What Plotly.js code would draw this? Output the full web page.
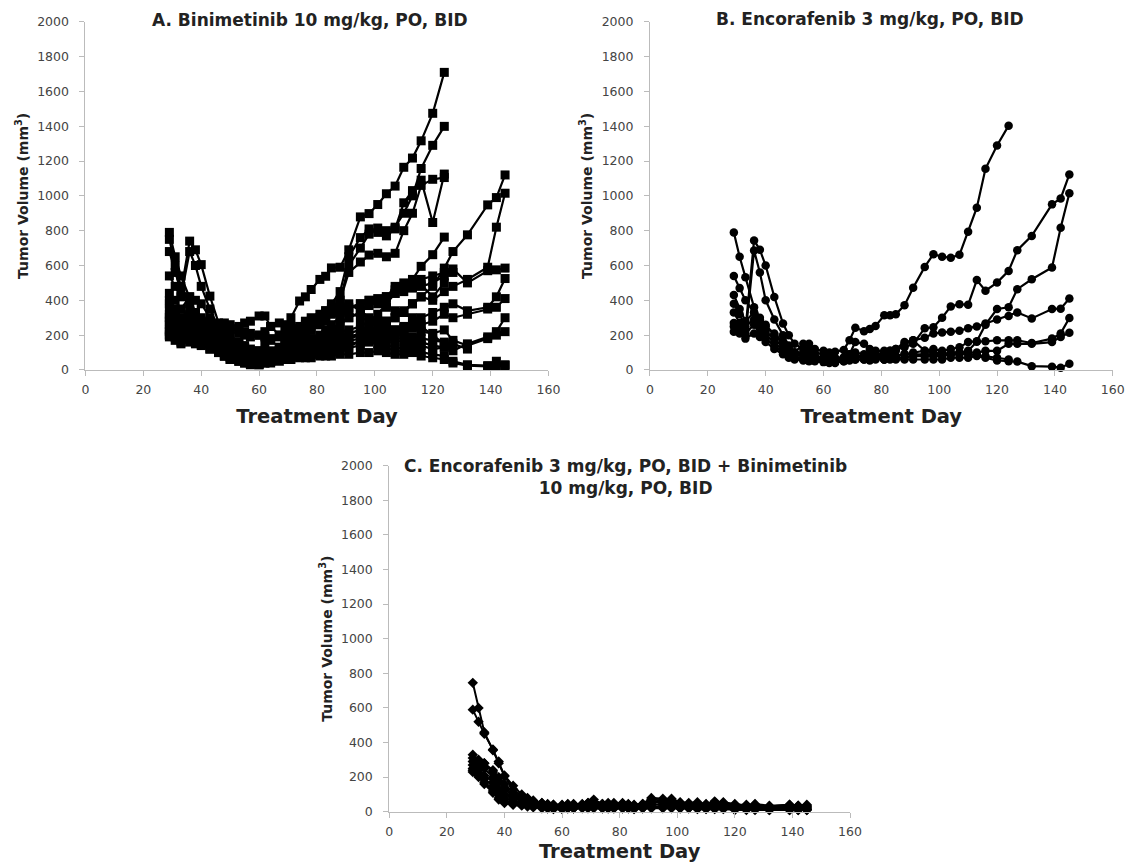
<!DOCTYPE html>
<html><head><meta charset="utf-8">
<script src="https://cdn.plot.ly/plotly-3.0.1.min.js"></script>
<style>html,body{margin:0;padding:0;background:#fff}#chart{width:1129px;height:865px}</style>
</head><body><div id="chart"></div>
<script>
// Measurement days (treatment day)
const days = [29,31,33,36,38,40,43,46,48,50,53,55,57, 60,62,64,67,69,71,74,76,78,81,83,85,88, 91,95,98,101,104,107,110,113,116,120,124,127,132,139,142,145];
const xTicks = [0,20,40,60,80,100,120,140,160];
const yTicks = [0,200,400,600,800,1000,1200,1400,1600,1800,2000];
const N = null;

// Panel A: Binimetinib 10 mg/kg (one array per mouse, tumor volume mm3)
const A01 = [300,280,260,300,260,230,200,170,140,120,110,100,90, 110,150,170,200,250,300,396,420,462,520,538,586,590, 690,879,898,950,1012,1056,1164,1217,1316,1474,1709,N,N,N,N,N];
const A02 = [790,650,540,420,330,270,230,190,160,130,120,100,90, 80,90,100,120,140,160,180,200,230,260,300,330,400, 600,700,780,815,800,820,900,1000,1157,1290,1399,N,N,N,N,N];
const A03 = [750,600,480,380,300,260,220,180,140,120,100,90,80, 70,80,90,110,130,150,180,220,260,300,340,380,450, 650,760,810,790,770,810,960,1030,1090,847,1125,N,N,N,N,N];
const A04 = [680,560,450,740,690,605,424,270,200,160,130,110,100, 90,100,110,130,150,170,190,210,240,260,280,330,400, 560,620,660,670,650,670,800,900,1060,1095,1105,N,N,N,N,N];
const A05 = [540,480,420,680,600,480,350,240,200,170,150,130,110, 100,90,100,110,120,130,150,170,180,190,200,210,220, 230,250,280,320,380,440,480,520,595,662,763,N,N,N,N,N];
const A06 = [440,400,350,420,400,380,300,240,200,180,160,140,120, 110,100,90,100,100,110,120,130,140,150,160,180,200, 210,230,250,270,280,300,330,380,420,480,585,680,776,948,990,1120];
const A07 = [400,350,300,320,300,280,250,220,190,160,140,120,100, 90,80,70,80,90,100,110,120,130,140,150,160,170, 180,200,220,250,280,300,340,380,420,400,450,480,520,590,820,1015];
const A08 = [380,330,290,300,280,260,230,200,170,150,130,110,100, 90,80,80,90,100,110,120,130,150,170,200,230,260, 300,330,380,400,420,460,480,500,520,540,560,580,500,570,575,585];
const A09 = [350,300,260,280,260,250,220,190,160,140,120,100,90, 80,70,60,70,80,90,100,110,120,130,140,150,160, 170,180,200,210,220,230,250,280,300,330,360,380,340,360,420,525];
const A10 = [320,280,250,270,250,230,210,180,150,130,110,90,80, 70,60,50,60,70,80,90,100,100,110,120,130,140, 150,160,170,180,190,200,220,240,260,280,320,300,320,350,360,410];
const A11 = [300,270,240,250,240,220,200,170,140,110,90,70,60, 50,60,50,60,70,80,80,90,90,100,110,120,130, 140,160,200,220,210,230,240,250,220,210,230,170,140,180,220,300];
const A12 = [280,250,220,240,230,210,180,150,120,90,70,60,50, 40,50,60,70,80,80,90,100,110,120,130,150,170, 190,210,200,190,180,170,160,150,140,120,130,110,150,190,200,220];
const A13 = [250,230,210,220,210,190,160,130,100,80,60,50,40, 30,40,50,60,70,70,80,80,90,90,100,110,120, 130,140,160,150,140,130,120,110,100,90,80,50,30,25,50,30];
const A14 = [230,210,190,200,190,170,140,110,80,60,50,40,30, 30,40,40,50,60,60,70,70,70,80,80,80,90, 90,100,100,110,100,90,90,100,80,70,60,40,25,20,20,25];
const A15 = [200,190,220,260,250,240,250,260,270,260,250,270,280, 310,310,250,200,180,170,160,170,180,200,230,260,300, 350,380,400,380,360,340,330,300,250,200,150,N,N,N,N,N];
const A16 = [200,190,160,180,170,150,120,100,80,60,50,40,35, 40,50,60,70,80,90,100,120,140,170,200,230,270, 300,330,370,400,420,480,500,480,490,420,500,N,N,N,N,N];
const A17 = [260,240,300,350,330,300,280,250,230,220,210,200,190, 200,220,250,270,260,250,240,260,280,300,320,350,380, 380,340,300,280,250,220,200,180,160,140,130,N,N,N,N,N];
const A18 = [220,200,180,190,200,210,230,240,250,240,230,220,210, 200,190,180,190,210,230,250,280,300,320,340,360,350, 330,300,280,260,240,220,200,190,180,170,160,150,120,N,N,N];
const A19 = [190,170,150,160,150,140,120,100,80,70,60,50,45, 60,80,100,130,160,200,230,250,270,280,300,320,340, 360,380,400,410,420,440,450,470,480,500,540,560,N,N,N,N];
const panelA = [A01,A02,A03,A04,A05,A06,A07,A08,A09,A10,A11,A12,A13,A14,A15,A16,A17,A18,A19];

// Panel B: Encorafenib 3 mg/kg
const B01 = [540,470,400,330,290,250,210,160,120,100,150,150,120, 110,100,105,115,171,242,223,235,253,314,314,320,371, 472,592,665,650,645,661,794,932,1155,1289,1403,N,N,N,N,N];
const B02 = [430,350,280,330,260,220,180,130,100,80,90,80,70, 60,70,60,70,80,70,80,80,90,100,110,120,130, 150,240,245,300,365,378,374,516,455,502,569,688,770,951,985,1123];
const B03 = [380,320,250,290,240,200,160,110,90,70,60,60,70, 60,50,60,60,70,80,70,60,70,60,70,80,90, 100,110,120,110,120,130,160,165,260,350,360,464,521,588,817,1015];
const B04 = [330,270,210,260,210,180,140,100,80,70,70,80,80, 70,60,50,70,90,100,90,80,80,90,100,110,150, 170,185,210,215,220,225,240,250,267,290,310,330,296,350,352,410];
const B05 = [270,240,230,744,690,600,419,267,200,150,120,110,100, 90,80,70,70,70,80,80,80,70,80,80,80,90, 90,90,90,90,100,100,110,162,165,170,170,170,155,180,210,298];
const B06 = [250,220,180,210,190,160,120,90,70,60,55,50,50, 45,40,40,50,60,60,60,70,70,60,70,70,70, 80,80,80,80,90,90,100,100,110,110,150,150,150,160,190,214];
const B07 = [220,210,200,686,560,400,290,200,140,100,80,70,60, 55,50,45,50,55,60,60,55,60,60,60,60,60, 60,60,60,60,70,70,70,80,70,55,50,48,22,19,13,35];
const B08 = [790,650,533,360,300,260,200,150,120,100,100,90,80, 70,60,60,70,90,160,150,120,110,110,110,120,160, 170,110,100,95,90,100,90,85,80,70,60,N,N,N,N,N];
const panelB = [B01,B02,B03,B04,B05,B06,B07,B08];

// Panel C: Encorafenib 3 mg/kg + Binimetinib 10 mg/kg
const C01 = [745,600,460,355,280,205,130,90,70,55,45,40,35, 35,40,35,40,45,50,40,45,40,45,40,35,40, 70,65,60,50,45,40,40,50,45,35,30,40,30,35,30,30];
const C02 = [590,520,450,360,290,210,150,100,80,60,50,40,40, 35,40,45,40,50,70,45,40,50,45,40,35,45, 80,75,70,55,50,55,45,60,50,40,40,40,30,40,35,40];
const C03 = [330,300,280,240,200,160,110,80,60,50,40,35,30, 30,35,30,35,40,45,35,40,35,40,40,35,40, 55,50,50,45,40,35,35,45,40,30,25,30,25,30,25,25];
const C04 = [310,280,250,200,170,130,90,70,55,45,35,30,25, 25,30,25,30,35,40,30,35,30,35,35,30,35, 50,60,45,40,35,30,30,40,35,25,20,25,20,25,20,20];
const C05 = [290,270,280,230,180,140,100,90,75,65,50,45,40, 40,45,40,45,50,55,45,50,45,50,45,40,45, 60,55,75,50,45,45,40,55,55,45,35,45,35,40,35,35];
const C06 = [270,240,210,170,130,100,80,60,50,40,30,25,20, 20,25,20,25,30,35,25,30,25,30,30,25,30, 40,40,40,35,30,25,25,35,30,20,20,20,15,20,15,15];
const C07 = [250,220,190,150,110,80,60,50,40,35,30,25,20, 20,25,25,30,30,30,25,25,25,25,25,20,25, 30,30,30,25,25,20,20,25,25,20,15,15,15,15,15,15];
const C08 = [240,210,170,120,80,60,50,40,35,30,25,20,20, 20,20,20,25,25,25,20,20,20,20,20,20,20, 25,25,25,20,20,20,20,20,20,15,15,15,10,10,10,10];
const C09 = [230,200,160,110,70,50,40,35,30,25,20,20,15, 15,20,20,20,20,20,20,20,20,20,20,15,20, 20,20,20,20,20,15,15,15,15,10,10,10,10,10,10,10];
const panelC = [C01,C02,C03,C04,C05,C06,C07,C08,C09];

const titleA = "A. Binimetinib 10 mg/kg, PO, BID";
const titleB = "B. Encorafenib 3 mg/kg, PO, BID";
const titleC = "C. Encorafenib 3 mg/kg, PO, BID + Binimetinib<br>10 mg/kg, PO, BID";
const xTitle = "Treatment Day";
const yTitle = "Tumor Volume (mm<sup>3</sup>)";

const FONT = "DejaVu Sans, Verdana, sans-serif";

function mk(vals, xa, ya, symbol, size, lw) {
  return {type:'scatter', mode:'lines+markers', x:days, y:vals, xaxis:xa, yaxis:ya,
    line:{color:'#000', width:lw}, marker:{symbol:symbol, size:size, color:'#000'},
    showlegend:false, hoverinfo:'skip', cliponaxis:false};
}
const traces = [];
panelA.forEach(v => traces.push(mk(v,'x','y','square',9,2.2)));
panelB.forEach(v => traces.push(mk(v,'x2','y2','circle',8.5,2.2)));
panelC.forEach(v => traces.push(mk(v,'x3','y3','diamond',8,2)));

function xax(domain, anchor, standoff) {
  return {domain:domain, anchor:anchor, range:[0,160], tickvals:xTicks, showline:true, linecolor:'#bbb', linewidth:1,
    ticks:'outside', ticklen:5, tickcolor:'#bbb', showgrid:false, zeroline:false, ticklabelstandoff:3,
    tickfont:{family:FONT, size:12.5, color:'#444'}, fixedrange:true,
    title:{text:'<b>'+xTitle+'</b>', font:{family:FONT, size:19.5, color:'#222'}, standoff:standoff}};
}
function yax(domain, anchor) {
  return {domain:domain, anchor:anchor, range:[0,2000], tickvals:yTicks, showline:true, linecolor:'#bbb', linewidth:1,
    ticks:'outside', ticklen:5, tickcolor:'#bbb', showgrid:false, zeroline:false, ticklabelstandoff:8,
    tickfont:{family:FONT, size:12.5, color:'#444'}, fixedrange:true,
    title:{text:'<b>'+yTitle+'</b>', font:{family:FONT, size:14, color:'#222'}, standoff:5}};
}

const layout = {
  width:1129, height:865, margin:{l:0,r:0,t:0,b:0}, paper_bgcolor:'#fff', plot_bgcolor:'#fff',
  font:{family:FONT, color:'#222'},
  xaxis: xax([0.0757,0.4858],'y',13),
  yaxis: yax([0.5723,0.9749],'x'),
  xaxis2: xax([0.5757,0.9856],'y2',13),
  yaxis2: yax([0.5723,0.9749],'x2'),
  xaxis3: xax([0.3448,0.7529],'y3',6),
  yaxis3: yax([0.0616,0.4616],'x3'),
  annotations:[
    {text:'<b>'+titleA+'</b>', xref:'paper', yref:'paper', x:0.2746, y:1-20/865, xanchor:'center', yanchor:'middle', showarrow:false, font:{family:FONT,size:17,color:'#222'}},
    {text:'<b>'+titleB+'</b>', xref:'paper', yref:'paper', x:0.7706, y:1-19/865, xanchor:'center', yanchor:'middle', showarrow:false, font:{family:FONT,size:17,color:'#222'}},
    {text:'<b>'+titleC+'</b>', xref:'paper', yref:'paper', x:0.5536, y:1-477/865, xanchor:'center', yanchor:'middle', showarrow:false, font:{family:FONT,size:17,color:'#222'}}
  ]
};
Plotly.newPlot('chart', traces, layout, {displayModeBar:false, staticPlot:true});
</script>
</body></html>
